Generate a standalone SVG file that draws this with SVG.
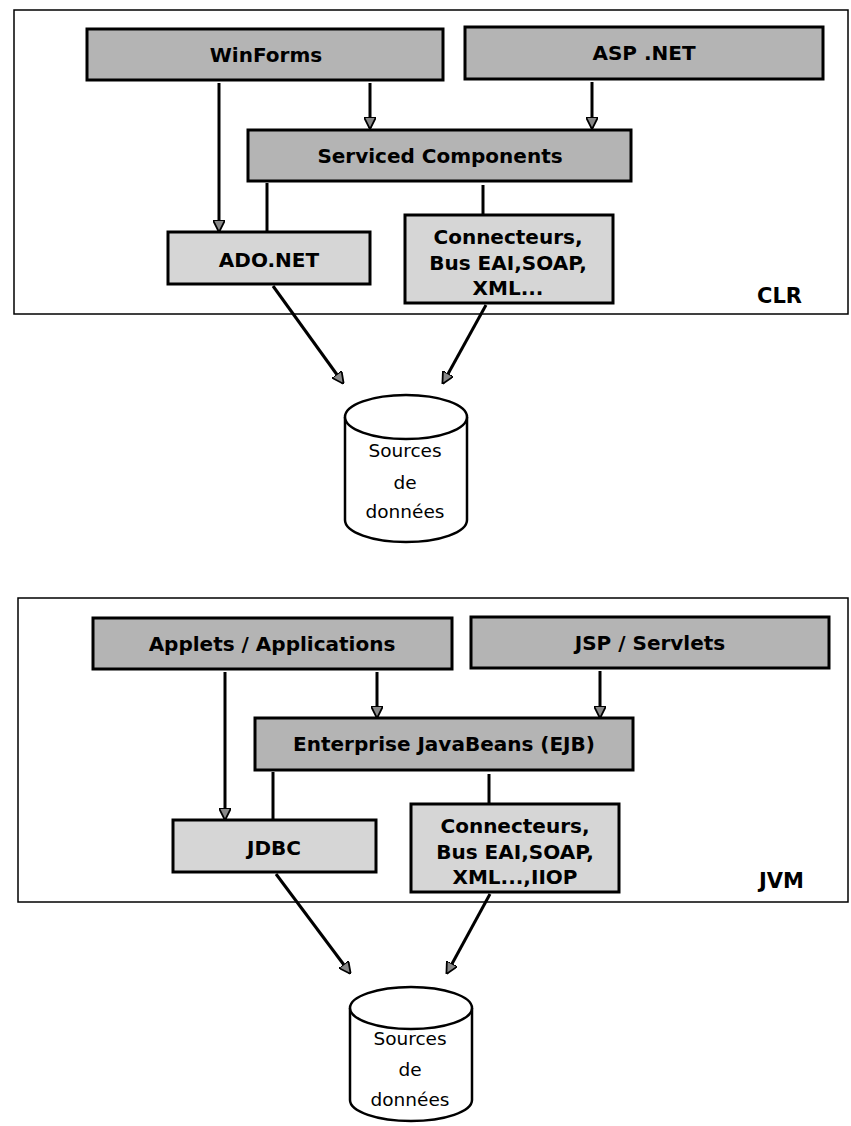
<svg xmlns="http://www.w3.org/2000/svg" width="851" height="1126" viewBox="0 0 851 1126">
<style>
.frame{fill:none;stroke:#000;stroke-width:1.5}
.dark{fill:#b4b4b4;stroke:#000;stroke-width:3}
.light{fill:#d6d6d6;stroke:#000;stroke-width:3}
.lbl{font-family:"DejaVu Sans",Verdana,sans-serif;font-weight:bold;font-size:20px;fill:#000;text-anchor:middle;dominant-baseline:central}
.big{font-family:"DejaVu Sans",Verdana,sans-serif;font-weight:bold;font-size:21px;fill:#000}
.db{fill:#fff;stroke:#000;stroke-width:2.5}
.dbt{font-family:"DejaVu Sans",Verdana,sans-serif;font-size:18.5px;fill:#000;text-anchor:middle;dominant-baseline:central}
.c{fill:none;stroke:#000;stroke-width:3}
.ca{fill:none;stroke:#000;stroke-width:3;marker-end:url(#ah)}
</style>
<defs>
<marker id="ah" viewBox="0 0 10 10" refX="9" refY="5" markerWidth="4" markerHeight="4" orient="auto" markerUnits="strokeWidth">
<path d="M0,0 L10,5 L0,10 z" fill="#888" stroke="#000" stroke-width="1.5"/>
</marker>
</defs>
<rect width="851" height="1126" fill="#fff"/>

<g id="clr-frame">
<rect class="frame" x="14" y="10" width="834" height="304"/>
<text class="big" x="757" y="303">CLR</text>
</g>
<g id="winforms"><rect class="dark" x="87" y="29" width="356" height="51"/><text class="lbl" x="266" y="55">WinForms</text></g>
<g id="aspnet"><rect class="dark" x="465" y="27" width="358" height="52"/><text class="lbl" x="644" y="53">ASP .NET</text></g>
<g id="serviced"><rect class="dark" x="248" y="130" width="383" height="51"/><text class="lbl" x="440" y="156">Serviced Components</text></g>
<g id="adonet"><rect class="light" x="168" y="232" width="202" height="52"/><text class="lbl" x="269" y="260">ADO.NET</text></g>
<g id="connecteurs1"><rect class="light" x="405" y="215" width="208" height="88"/>
<text class="lbl" x="508" y="237">Connecteurs,</text><text class="lbl" x="508" y="263">Bus EAI,SOAP,</text><text class="lbl" x="508" y="288">XML...</text></g>
<g id="db1">
<path class="db" d="M345,417 L345,520 A61,22 0 0 0 467,520 L467,417"/>
<ellipse class="db" cx="406" cy="417" rx="61" ry="22"/>
<text class="dbt" x="405" y="450">Sources</text><text class="dbt" x="405" y="482">de</text><text class="dbt" x="405" y="511">données</text>
</g>

<g id="jvm-frame">
<rect class="frame" x="18" y="598" width="830" height="304"/>
<text class="big" x="759" y="888">JVM</text>
</g>
<g id="applets"><rect class="dark" x="93" y="618" width="359" height="51"/><text class="lbl" x="272" y="644">Applets / Applications</text></g>
<g id="jsp"><rect class="dark" x="471" y="617" width="358" height="51"/><text class="lbl" x="650" y="643">JSP / Servlets</text></g>
<g id="ejb"><rect class="dark" x="255" y="718" width="378" height="52"/><text class="lbl" x="444" y="744">Enterprise JavaBeans (EJB)</text></g>
<g id="jdbc"><rect class="light" x="173" y="820" width="203" height="52"/><text class="lbl" x="274" y="848">JDBC</text></g>
<g id="connecteurs2"><rect class="light" x="411" y="804" width="208" height="88"/>
<text class="lbl" x="515" y="826">Connecteurs,</text><text class="lbl" x="515" y="852">Bus EAI,SOAP,</text><text class="lbl" x="515" y="877">XML...,IIOP</text></g>
<g id="db2">
<path class="db" d="M350,1008 L350,1100 A61,21 0 0 0 472,1100 L472,1008"/>
<ellipse class="db" cx="411" cy="1008" rx="61" ry="21"/>
<text class="dbt" x="410" y="1038">Sources</text><text class="dbt" x="410" y="1069">de</text><text class="dbt" x="410" y="1099">données</text>
</g>

<g id="connectors">
<line class="ca" x1="219" y1="83" x2="219" y2="231"/>
<line class="ca" x1="370" y1="83" x2="370" y2="128"/>
<line class="ca" x1="592" y1="82" x2="592" y2="128"/>
<line class="c" x1="267" y1="183" x2="267" y2="231"/>
<line class="c" x1="483" y1="185" x2="483" y2="214"/>
<line class="ca" x1="273" y1="286" x2="343" y2="383"/>
<line class="ca" x1="486" y1="305" x2="443" y2="383"/>

<line class="ca" x1="225" y1="672" x2="225" y2="819"/>
<line class="ca" x1="377" y1="672" x2="377" y2="717"/>
<line class="ca" x1="600" y1="671" x2="600" y2="717"/>
<line class="c" x1="273" y1="772" x2="273" y2="819"/>
<line class="c" x1="489" y1="774" x2="489" y2="803"/>
<line class="ca" x1="276" y1="874" x2="350" y2="973"/>
<line class="ca" x1="490" y1="894" x2="447" y2="973"/>
</g>
</svg>
